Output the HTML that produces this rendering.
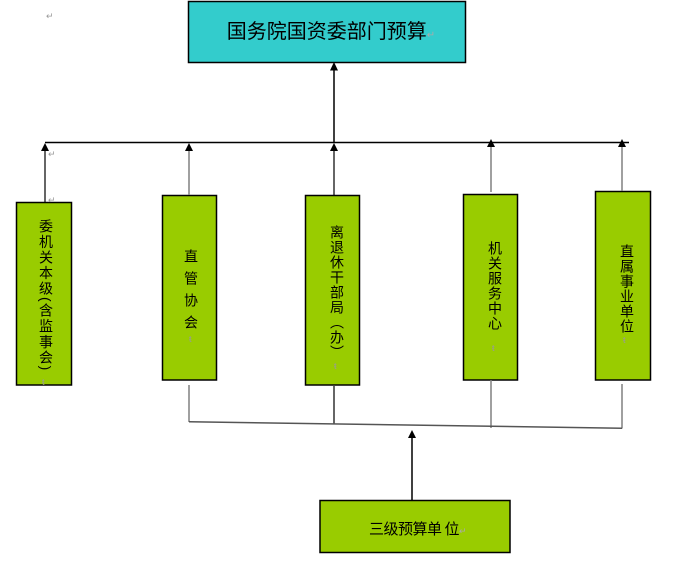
<!DOCTYPE html>
<html>
<head>
<meta charset="utf-8">
<style>
  html,body{margin:0;padding:0;background:#fff;}
  body{width:679px;height:563px;position:relative;overflow:hidden;
       font-family:"Liberation Sans","Noto Sans CJK SC",sans-serif;color:#000;}
  svg{position:absolute;left:0;top:0;}
  .vt{position:absolute;writing-mode:vertical-rl;font-size:14px;line-height:20px;width:20px;
      letter-spacing:1px;white-space:nowrap;font-family:"Liberation Sans","Noto Sans CJK SC",sans-serif;}
  .rm{position:absolute;color:#999;font-size:9px;line-height:9px;}
</style>
</head>
<body>
<svg width="679" height="563" viewBox="0 0 679 563" xmlns="http://www.w3.org/2000/svg">
  <rect x="188.5" y="1.5" width="277" height="61" fill="#33CCCC" stroke="#000" stroke-width="1.5"/>
  <rect x="320" y="500.5" width="190" height="52" fill="#99CC00" stroke="#000" stroke-width="1.5"/>
  <rect x="16.5" y="202.5" width="55" height="182.5" fill="#99CC00" stroke="#000" stroke-width="1.5"/>
  <rect x="162.5" y="195.5" width="54" height="184.5" fill="#99CC00" stroke="#000" stroke-width="1.5"/>
  <rect x="305.5" y="195.5" width="54" height="189.5" fill="#99CC00" stroke="#000" stroke-width="1.5"/>
  <rect x="463.5" y="194.5" width="54" height="185.5" fill="#99CC00" stroke="#000" stroke-width="1.5"/>
  <rect x="595.5" y="191.5" width="55" height="188.5" fill="#99CC00" stroke="#000" stroke-width="1.5"/>

  <line x1="45" y1="142.5" x2="629" y2="142.5" stroke="#000" stroke-width="1.5"/>

  <line x1="334" y1="142" x2="334" y2="68" stroke="#000" stroke-width="1.5"/>
  <polygon points="334,62 330,70.5 338,70.5" fill="#000"/>

  <line x1="45" y1="202" x2="45" y2="148" stroke="#000" stroke-width="1.2"/>
  <polygon points="45,143 41,151 49,151" fill="#000"/>

  <line x1="189" y1="195" x2="189" y2="148" stroke="#808080" stroke-width="1.5"/>
  <polygon points="189,143 185,151 193,151" fill="#000"/>

  <line x1="334" y1="195" x2="334" y2="148" stroke="#000" stroke-width="1.2"/>
  <polygon points="334,143 330,151 338,151" fill="#000"/>

  <line x1="491" y1="192" x2="491" y2="145" stroke="#808080" stroke-width="1.5"/>
  <polygon points="491,139 487,147 495,147" fill="#000"/>

  <line x1="622" y1="191" x2="622" y2="145" stroke="#808080" stroke-width="1.5"/>
  <polygon points="622,139 618,147 626,147" fill="#000"/>

  <line x1="189" y1="385" x2="189" y2="422" stroke="#808080" stroke-width="1.5"/>
  <line x1="334" y1="386" x2="334" y2="423.5" stroke="#000" stroke-width="1.2"/>
  <line x1="491" y1="380" x2="491" y2="428" stroke="#808080" stroke-width="1.5"/>
  <line x1="622" y1="384" x2="622" y2="428.5" stroke="#808080" stroke-width="1.5"/>
  <line x1="189" y1="421.8" x2="622" y2="428.2" stroke="#555" stroke-width="1.5"/>

  <line x1="412" y1="500" x2="412" y2="436" stroke="#000" stroke-width="1.5"/>
  <polygon points="412,430 408,438 416,438" fill="#000"/>
</svg>

<div style="position:absolute;left:192px;top:20px;width:278px;text-align:center;font-size:20px;line-height:24px;white-space:nowrap;">国务院国资委部门预算<span style="color:#aaa;font-size:10px;">↵</span></div>

<div class="vt" style="left:36px;top:219px;letter-spacing:1.6px;">委机关本级(含监事会)</div>
<div class="vt" style="left:181px;top:249px;letter-spacing:8px;">直管协会</div>
<div class="vt" style="left:327px;top:225px;">离退休干部局（办）</div>
<div class="vt" style="left:485px;top:241px;">机关服务中心</div>
<div class="vt" style="left:617px;top:244px;">直属事业单位</div>

<div style="position:absolute;left:369px;top:520px;font-size:15px;line-height:20px;white-space:nowrap;letter-spacing:-0.5px;">三级预算单<span style="margin-left:3px;">位</span><span style="color:#aaa;font-size:9px;">↵</span></div>

<div class="rm" style="left:46px;top:12px;">↵</div>
<div class="rm" style="left:48px;top:150px;">↵</div>
<div class="rm" style="left:48px;top:196px;">↵</div>
<div class="rm" style="left:42px;top:378px;">ŧ</div>
<div class="rm" style="left:189px;top:335px;">ŧ</div>
<div class="rm" style="left:334px;top:362px;">ŧ</div>
<div class="rm" style="left:492px;top:344px;">ŧ</div>
<div class="rm" style="left:623px;top:336px;">ŧ</div>
</body>
</html>
